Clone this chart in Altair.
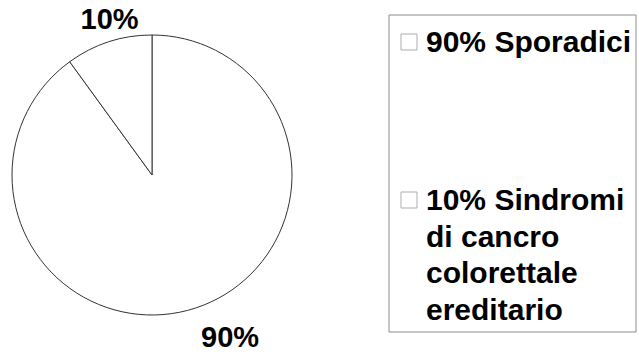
import altair as alt
import pandas as pd

# ---- data ----
categories = ["Sporadici", "Sindromi di cancro colorettale ereditario"]
values = [90, 10]
slice_labels = ["90%", "10%"]
legend_lines = [["90% Sporadici"], ["10% Sindromi", "di cancro", "colorettale", "ereditario"]]

df = pd.DataFrame({
    "category": categories,
    "value": values,
    "label": slice_labels,
    "order": [0, 1],
    "legend": ["\n".join(l) for l in legend_lines],
})

FONT = "Liberation Sans"
theta_scale = alt.Scale(domain=[0, 100])

base = alt.Chart(df)

pie = base.mark_arc(radius=140, fill="white", stroke="#333333", strokeWidth=1).encode(
    theta=alt.Theta("value:Q", stack=True, scale=theta_scale),
    order=alt.Order("order:Q"),
    x=alt.value(152),
    y=alt.value(175),
)

stacked = base.transform_window(
    cum="sum(value)", sort=[alt.SortField("order")], frame=[None, 0]
).transform_calculate(mid="datum.cum - datum.value / 2")


def slice_label(lbl, r, dx, dy):
    return stacked.transform_filter(alt.datum.label == lbl).mark_text(
        radius=r, dx=dx, dy=dy, font=FONT, fontSize=29, fontWeight="bold",
        align="center", baseline="alphabetic", color="black",
    ).encode(
        theta=alt.Theta("mid:Q", scale=theta_scale),
        text="label:N",
        x=alt.value(152),
        y=alt.value(175),
    )


lab90 = slice_label("90%", 170, 25.5, 10)
lab10 = slice_label("10%", 160, 7, 6)

box = alt.Chart(pd.DataFrame({"b": [0]})).mark_rect(
    fill="white", stroke="#8c8c8c", strokeWidth=1
).encode(
    x=alt.value(389), x2=alt.value(636), y=alt.value(15), y2=alt.value(332)
)

ypos = alt.Y("order:Q", axis=None, scale=alt.Scale(domain=[0, 1], range=[42, 200]))

sym = base.mark_square(size=256, filled=True, fill="white", stroke="#8c8c8c", strokeWidth=1).encode(
    x=alt.value(409),
    y=ypos,
)

txt = base.mark_text(
    align="left", baseline="alphabetic", dy=10, lineBreak="\n", lineHeight=36.5,
    font=FONT, fontSize=30, fontWeight="bold", color="black",
).encode(
    x=alt.value(426),
    y=ypos,
    text="legend:N",
)

chart = alt.layer(pie, lab90, lab10, box, sym, txt).properties(
    width=639, height=354, autosize=alt.AutoSizeParams(type="none"), padding=0,
    background="white",
).configure_view(stroke=None)

chart.save("out.html", embed_options={"renderer": "svg", "actions": False})
